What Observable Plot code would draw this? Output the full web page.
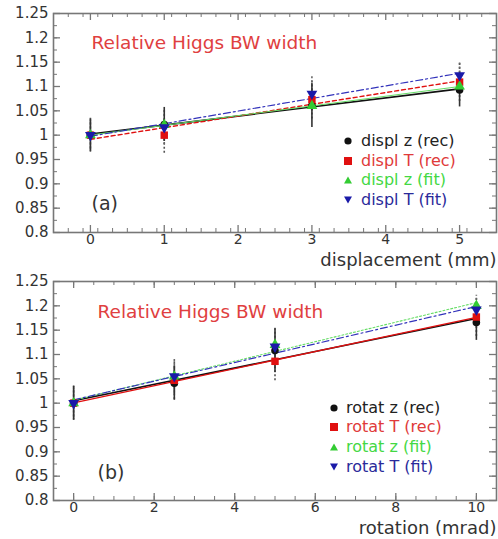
<!DOCTYPE html>
<html><head><meta charset="utf-8">
<script src="https://cdn.jsdelivr.net/npm/d3@7"></script>
<script src="https://cdn.jsdelivr.net/npm/@observablehq/plot@0.6"></script>
<style>
body{margin:0;background:#fff;}
#wrap{position:relative;width:498px;height:539px;font-family:"DejaVu Sans",sans-serif;}
#wrap svg.plot{display:block;}
.leg{position:absolute;font-size:16px;line-height:20px;height:20px;white-space:nowrap;}
.leg svg{position:absolute;left:0;top:6px;overflow:visible;}
</style></head><body><div id="wrap"></div>
<script>
// ---------- Panel (a): displacement ----------
const xDispl = [0, 1, 3, 5];
const displZRec = [1.000, 1.022, 1.061, 1.093];
const displTRec = [1.000, 1.000, 1.073, 1.109];
const displZFit = [1.000, 1.021, 1.060, 1.100];
const displTFit = [1.000, 1.016, 1.085, 1.123];
const errDisplZRec = [0.033, 0.035, 0.045, 0.035];
const errDisplTRec = [0.035, 0.037, 0.040, 0.040];
const errDisplTFit = [0.030, 0.035, 0.035, 0.028];
const xTicksA = [0, 1, 2, 3, 4, 5];
const labelsA = ["displ z (rec)", "displ T (rec)", "displ z (fit)", "displ T (fit)"];

// ---------- Panel (b): rotation ----------
const xRot = [0, 2.5, 5, 10];
const rotZRec = [1.000, 1.041, 1.108, 1.166];
const rotTRec = [1.000, 1.047, 1.086, 1.177];
const rotZFit = [1.000, 1.055, 1.120, 1.200];
const rotTFit = [1.000, 1.055, 1.116, 1.192];
const errRotZRec = [0.035, 0.035, 0.045, 0.037];
const errRotTRec = [0.035, 0.040, 0.040, 0.040];
const errRotTFit = [0.030, 0.035, 0.040, 0.030];
const xTicksB = [0, 2, 4, 6, 8, 10];
const labelsB = ["rotat z (rec)", "rotat T (rec)", "rotat z (fit)", "rotat T (fit)"];

const yTicks = [0.8, 0.85, 0.9, 0.95, 1, 1.05, 1.1, 1.15, 1.2, 1.25];
const yTickLabels = ["0.8", "0.85", "0.9", "0.95", "1", "1.05", "1.1", "1.15", "1.2", "1.25"];
const title = "Relative Higgs BW width";

const colors = {zrec: "#111111", trec: "#e01010", zfit: "#33cc33", tfit: "#1a1aa8"};
const textColors = {zrec: "#222222", trec: "#e03a3a", zfit: "#44d844", tfit: "#2a2a9a"};

function rows(xs, ys, errs) {
  return xs.map((x, i) => ({x, y: ys[i], e: errs ? errs[i] : 0}));
}

function panel(o) {
  const W = 498, mL = 53, mR = 2, innerH = 219;
  const mB = o.height - o.mTop - innerH;
  const innerW = W - mL - mR;
  const axisCol = "#777";
  const yMinor = d3.range(0.8, 1.2501, 0.025);
  const xMinor = d3.range(o.xDomain[0] + o.minorStep, o.xDomain[1] - 1e-9, o.minorStep);
  const lenMaj = 7, lenMin = 4;
  const zr = rows(o.xs, o.zrec, o.ezrec), tr = rows(o.xs, o.trec, o.etrec),
        zf = rows(o.xs, o.zfit), tf = rows(o.xs, o.tfit, o.etfit);
  const ls = o.lineStyles;
  return Plot.plot({
    width: W, height: o.height,
    marginLeft: mL, marginRight: mR, marginTop: o.mTop, marginBottom: mB,
    x: {domain: o.xDomain},
    y: {domain: [0.8, 1.25]},
    style: {fontFamily: "DejaVu Sans, sans-serif", fontSize: "15px", color: "#333", background: "white"},
    marks: [
      // minor ticks
      Plot.tickY(yMinor, {y: d => d, insetRight: innerW - lenMin, stroke: axisCol}),
      Plot.tickY(yMinor, {y: d => d, insetLeft: innerW - lenMin, stroke: axisCol}),
      Plot.tickX(xMinor, {x: d => d, insetTop: innerH - lenMin, stroke: axisCol}),
      Plot.tickX(xMinor, {x: d => d, insetBottom: innerH - lenMin, stroke: axisCol}),
      // major ticks
      Plot.tickY(yTicks, {y: d => d, insetRight: innerW - lenMaj, stroke: axisCol, strokeWidth: 1.3}),
      Plot.tickY(yTicks, {y: d => d, insetLeft: innerW - lenMaj, stroke: axisCol, strokeWidth: 1.3}),
      Plot.tickX(o.xTicks, {x: d => d, insetTop: innerH - lenMaj, stroke: axisCol, strokeWidth: 1.3}),
      Plot.tickX(o.xTicks, {x: d => d, insetBottom: innerH - lenMaj, stroke: axisCol, strokeWidth: 1.3}),
      Plot.frame({stroke: axisCol, strokeWidth: 1.6}),
      // fit lines
      Plot.linearRegressionY(zr, {x: "x", y: "y", ci: 0, stroke: colors.zrec, strokeWidth: 1.6, strokeDasharray: ls.zrec}),
      Plot.linearRegressionY(tr, {x: "x", y: "y", ci: 0, stroke: colors.trec, strokeWidth: 1.4, strokeDasharray: ls.trec}),
      Plot.linearRegressionY(zf, {x: "x", y: "y", ci: 0, stroke: "#66dd66", strokeWidth: 1.1, strokeDasharray: ls.zfit}),
      Plot.linearRegressionY(tf, {x: "x", y: "y", ci: 0, stroke: "#3333bb", strokeWidth: 1.2, strokeDasharray: ls.tfit}),
      // error bars
      Plot.ruleX(tr, {x: "x", y1: d => d.y - d.e, y2: d => d.y + d.e, stroke: "#555", strokeWidth: 1.6, strokeDasharray: "2,2"}),
      Plot.ruleX(tf, {x: "x", y1: d => d.y - d.e, y2: d => d.y + d.e, stroke: "#666", strokeWidth: 1.6, strokeDasharray: "2,2"}),
      Plot.ruleX(zr, {x: "x", y1: d => d.y - d.e, y2: d => d.y + d.e, stroke: "#333", strokeWidth: 1.6, strokeDasharray: o.zErrDash}),
      // points
      Plot.dot(zr, {x: "x", y: "y", symbol: "circle", r: 3.8, fill: colors.zrec}),
      Plot.dot(tr, {x: "x", y: "y", symbol: "square", r: 4.2, fill: colors.trec}),
      Plot.dot(zf, {x: "x", y: "y", symbol: "triangle", r: 4, fill: colors.zfit}),
      Plot.dot(tf, {x: "x", y: "y", symbol: "triangle", rotate: 180, r: 4, fill: colors.tfit}),
      // axes labels
      Plot.axisY({ticks: yTicks, tickSize: 0, tickPadding: 5, label: null,
        tickFormat: d => yTickLabels[yTicks.indexOf(d)]}),
      Plot.axisX({ticks: o.xTicks, tickSize: 0, tickPadding: 2, label: null, fontSize: 14,
        tickFormat: d => String(d)}),
      Plot.text([o.xLabel], {frameAnchor: "bottom-right", text: d => d, dy: 28, textAnchor: "end", lineAnchor: "middle", fontSize: 18, fill: "#333", letterSpacing: "0.5px"}),
      // in-frame texts
      Plot.text([title], {frameAnchor: "top-left", text: d => d, dx: o.titleDx, dy: o.titleDy, textAnchor: "start", lineAnchor: "middle", fontSize: 18.5, fill: "#e04040"}),
      Plot.text([o.tag], {frameAnchor: "top-left", text: d => d, dx: o.titleDx, dy: o.tagDy, textAnchor: "start", lineAnchor: "middle", fontSize: 19, fill: "#333"})
    ]
  });
}

const wrap = document.getElementById("wrap");
wrap.appendChild(panel({
  xs: xDispl, zrec: displZRec, trec: displTRec, zfit: displZFit, tfit: displTFit,
  ezrec: errDisplZRec, etrec: errDisplTRec, etfit: errDisplTFit,
  xDomain: [-0.5, 5.5], xTicks: xTicksA, minorStep: 0.2,
  height: 270, mTop: 13, xLabel: "displacement (mm)", tag: "(a)",
  titleDx: 38, titleDy: 30, tagDy: 190, zErrDash: null,
  lineStyles: {zrec: null, trec: "4,3", zfit: null, tfit: "7,3,2,3"}
}));
wrap.appendChild(panel({
  xs: xRot, zrec: rotZRec, trec: rotTRec, zfit: rotZFit, tfit: rotTFit,
  ezrec: errRotZRec, etrec: errRotTRec, etfit: errRotTFit,
  xDomain: [-0.5, 10.5], xTicks: xTicksB, minorStep: 0.5,
  height: 269, mTop: 11, xLabel: "rotation (mrad)", tag: "(b)",
  titleDx: 44, titleDy: 31, tagDy: 191, zErrDash: null,
  lineStyles: {zrec: null, trec: null, zfit: "2,2", tfit: "7,3,2,3"}
}));

// legends (HTML overlay)
const keys = ["zrec", "trec", "zfit", "tfit"];
function shape(k) {
  const c = colors[k];
  if (k === "zrec") return `<circle cx="4" cy="4" r="3.6" fill="${c}"/>`;
  if (k === "trec") return `<rect x="0" y="0" width="8" height="8" fill="${c}"/>`;
  if (k === "zfit") return `<path d="M4,0.5L8,7.5L0,7.5Z" fill="${c}"/>`;
  return `<path d="M0,0.5L8,0.5L4,7.5Z" fill="${c}"/>`;
}
function legend(labels, symX, textX, rowYs) {
  labels.forEach((lab, i) => {
    const k = keys[i];
    const d = document.createElement("div");
    d.className = "leg";
    d.style.left = (symX - 4) + "px";
    d.style.top = (rowYs[i] - 10) + "px";
    d.style.color = textColors[k];
    d.innerHTML = `<svg width="8" height="8">${shape(k)}</svg><span style="position:absolute;left:${textX - symX + 4}px;top:0">${lab}</span>`;
    wrap.appendChild(d);
  });
}
legend(labelsA, 348, 361, [141, 161, 180, 200]);
legend(labelsB, 334, 346, [408, 427, 447, 467]);
</script>
</body></html>
